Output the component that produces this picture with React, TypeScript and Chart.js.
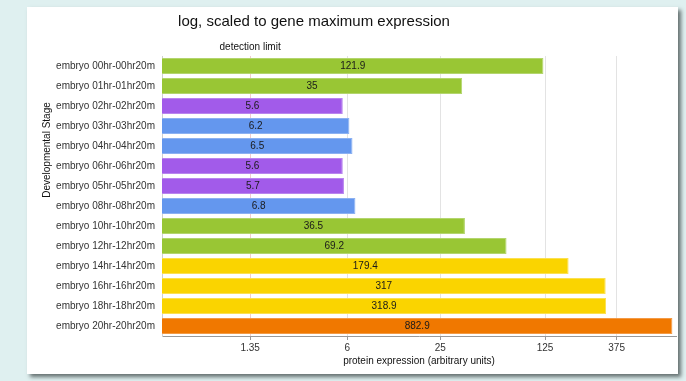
import React, { useEffect, useRef } from "react";
import { Chart, registerables } from "chart.js";

Chart.register(...registerables);

const categories = [
  "embryo 00hr-00hr20m",
  "embryo 01hr-01hr20m",
  "embryo 02hr-02hr20m",
  "embryo 03hr-03hr20m",
  "embryo 04hr-04hr20m",
  "embryo 06hr-06hr20m",
  "embryo 05hr-05hr20m",
  "embryo 08hr-08hr20m",
  "embryo 10hr-10hr20m",
  "embryo 12hr-12hr20m",
  "embryo 14hr-14hr20m",
  "embryo 16hr-16hr20m",
  "embryo 18hr-18hr20m",
  "embryo 20hr-20hr20m",
];

const values = [121.9, 35, 5.6, 6.2, 6.5, 5.6, 5.7, 6.8, 36.5, 69.2, 179.4, 317, 318.9, 882.9];

const valueLabels = ["121.9", "35", "5.6", "6.2", "6.5", "5.6", "5.7", "6.8", "36.5", "69.2", "179.4", "317", "318.9", "882.9"];

const groups = ["green", "green", "purple", "blue", "blue", "purple", "purple", "blue", "green", "green", "yellow", "yellow", "yellow", "orange"];

const tickValues = [1.35, 6, 25, 125, 375];
const detectionLimit = 1.35;
const axisMin = 0.349;
const axisMax = 933;

const fillColors: Record<string, string> = {
  green: "#99c634",
  purple: "#a25bea",
  blue: "#6497ee",
  yellow: "#fad400",
  orange: "#f07800",
};
const edgeColors: Record<string, string> = {
  green: "#b3d56e",
  purple: "#b985ef",
  blue: "#8cb1f2",
  yellow: "#fbe050",
  orange: "#f39a45",
};

const FONT = "'Liberation Sans', Arial, Helvetica, sans-serif";

const textPlugin = {
  id: "texts",
  afterDatasetsDraw(chart: any) {
    const ctx = chart.ctx;
    const meta = chart.getDatasetMeta(0);
    ctx.save();
    ctx.font = `10px ${FONT}`;
    ctx.fillStyle = "#1a1a1a";
    ctx.textAlign = "center";
    ctx.textBaseline = "middle";
    meta.data.forEach((el: any, i: number) => {
      const cx = (el.base + el.x) / 2;
      ctx.fillText(valueLabels[i], cx, el.y + 0.5);
    });
    ctx.restore();
  },
  afterDraw(chart: any) {
    const ctx = chart.ctx;
    const area = chart.chartArea;
    const xs = chart.scales.x;
    ctx.save();
    ctx.fillStyle = "#111";
    ctx.textAlign = "center";
    ctx.textBaseline = "middle";
    ctx.font = `15px ${FONT}`;
    ctx.fillText("log, scaled to gene maximum expression", 314, 22);
    ctx.font = `10px ${FONT}`;
    ctx.fillText("detection limit", xs.getPixelForValue(detectionLimit), 47);
    ctx.fillText("protein expression (arbitrary units)", (area.left + area.right) / 2, 361);
    ctx.translate(47, 150);
    ctx.rotate(-Math.PI / 2);
    ctx.fillText("Developmental Stage", 0, 0);
    ctx.restore();
  },
};

export default function App() {
  const ref = useRef<HTMLCanvasElement | null>(null);

  useEffect(() => {
    if (!ref.current) return;
    const chart = new Chart(ref.current, {
      type: "bar",
      data: {
        labels: categories,
        datasets: [
          {
            data: values,
            backgroundColor: groups.map((g) => fillColors[g]),
            borderColor: groups.map((g) => edgeColors[g]),
            borderWidth: 1,
            barPercentage: 0.8,
            categoryPercentage: 1.0,
          },
        ],
      },
      options: {
        indexAxis: "y",
        responsive: false,
        animation: false,
        layout: { padding: { left: 0, right: 10, top: 56, bottom: 0 } },
        plugins: {
          legend: { display: false },
          tooltip: { enabled: false },
          title: { display: false },
        },
        scales: {
          x: {
            type: "logarithmic",
            bounds: "data",
            min: axisMin,
            max: axisMax,
            afterBuildTicks(scale: any) {
              scale.ticks = tickValues.map((v) => ({ value: v }));
              scale.min = axisMin;
              scale.max = axisMax;
            },
            afterFit(scale: any) {
              scale.height = 45;
            },
            ticks: {
              autoSkip: false,
              maxRotation: 0,
              minRotation: 0,
              padding: 2,
              color: "#333",
              font: { family: FONT, size: 10 },
              callback: (v: any) => String(v),
            },
            grid: {
              color: (c: any) => (c.tick && c.tick.value === detectionLimit ? "#efcccc" : "#e3e3e3"),
              tickColor: "#999",
              tickLength: 4,
              lineWidth: 1,
            },
            border: { display: true, color: "#999", width: 1 },
          },
          y: {
            type: "category",
            afterFit(scale: any) {
              scale.width = 162;
            },
            ticks: {
              padding: 7,
              color: "#333",
              font: { family: FONT, size: 10 },
              autoSkip: false,
            },
            grid: { display: false, drawTicks: false },
            border: { display: true, color: "#cfcfcf", width: 1 },
          },
        },
      },
      plugins: [textPlugin],
    } as any);
    return () => chart.destroy();
  }, []);

  return (
    <div style={{ position: "absolute", left: 0, top: 0, width: 686, height: 381, background: "#dff0f0", overflow: "hidden" }}>
      <div
        style={{
          position: "absolute",
          left: 27,
          top: 7,
          width: 651,
          height: 367,
          background: "#ffffff",
          boxShadow: "3px 3px 4px rgba(60,70,70,0.75)",
        }}
      />
      <canvas ref={ref} width={686} height={381} style={{ position: "absolute", left: 0, top: 0, width: 686, height: 381 }} />
    </div>
  );
}
